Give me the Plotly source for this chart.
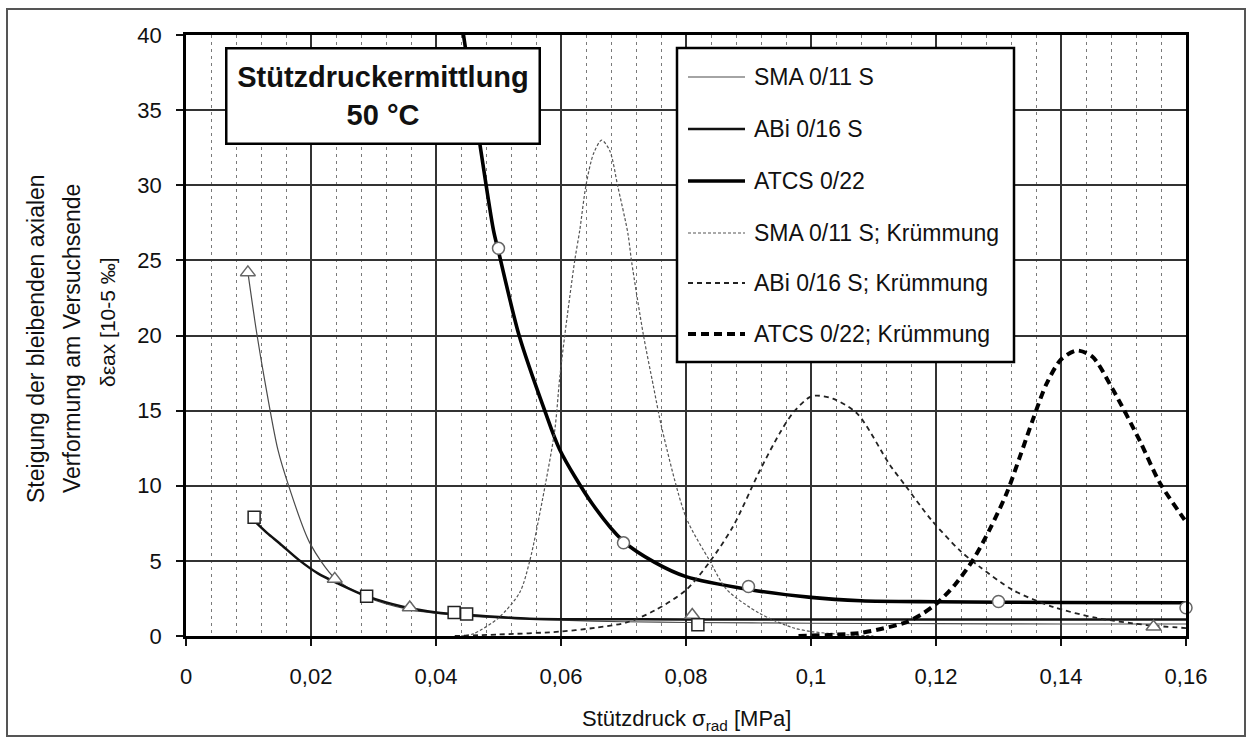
import plotly.graph_objects as go

# ---------------- data ----------------
# x: Stützdruck sigma_rad [MPa], y: Steigung der bleibenden axialen Verformung

sma_x = [0.0099, 0.0113, 0.0126, 0.0147, 0.0165, 0.0198, 0.0238, 0.0289, 0.0358,
         0.0428, 0.050, 0.060, 0.070, 0.080, 0.100, 0.120, 0.140, 0.160]
sma_y = [24.2, 20.2, 17.0, 12.4, 9.9, 6.2, 3.85, 2.6, 1.75,
         1.4, 1.2, 1.05, 0.95, 0.9, 0.85, 0.82, 0.8, 0.8]

abi_x = [0.0111, 0.0130, 0.0150, 0.0181, 0.0211, 0.0243, 0.0289, 0.0347, 0.0401,
         0.0454, 0.055, 0.065, 0.080, 0.100, 0.120, 0.140, 0.160]
abi_y = [7.6, 6.85, 6.16, 5.05, 4.17, 3.5, 2.65, 1.95, 1.57,
         1.4, 1.15, 1.12, 1.1, 1.1, 1.1, 1.1, 1.1]

atcs_x = [0.0435, 0.0444, 0.0470, 0.0492, 0.0500, 0.0533, 0.0574, 0.0598, 0.065,
          0.070, 0.075, 0.080, 0.090, 0.100, 0.108, 0.120, 0.140, 0.160]
atcs_y = [42.5, 40.0, 32.8, 27.0, 25.6, 20.0, 15.0, 12.4, 8.8,
          6.3, 4.9, 3.95, 3.1, 2.57, 2.35, 2.28, 2.23, 2.21]

sma_k_x = [0.044, 0.046, 0.050, 0.0534, 0.055, 0.057, 0.059, 0.0598, 0.0606, 0.0622,
           0.063, 0.064, 0.0652, 0.0665, 0.0678, 0.0691, 0.0707, 0.0713, 0.0732,
           0.0748, 0.0761, 0.080, 0.0838, 0.0865, 0.0918, 0.0971, 0.100, 0.105, 0.110]
sma_k_y = [0.0, 0.15, 1.2, 2.9, 5.0, 9.0, 13.7, 17.2, 20.0, 25.0,
           27.0, 30.0, 32.1, 33.0, 32.3, 29.9, 26.8, 24.9, 20.0,
           16.6, 13.9, 7.9, 5.0, 3.1, 1.5, 0.55, 0.3, 0.1, 0.0]

abi_k_x = [0.043, 0.050, 0.0598, 0.0655, 0.0705, 0.075, 0.080, 0.0838, 0.0875, 0.0918,
           0.095, 0.0972, 0.0998, 0.101, 0.1035, 0.1074, 0.1126, 0.1153, 0.1193, 0.1238,
           0.127, 0.1323, 0.1387, 0.1457, 0.1537, 0.160]
abi_k_y = [0.0, 0.1, 0.29, 0.55, 0.9, 1.7, 3.06, 4.94, 7.27, 11.0,
           13.5, 14.9, 15.9, 16.0, 15.8, 14.8, 11.4, 9.9, 7.7, 5.7,
           4.6, 3.06, 1.94, 1.2, 0.73, 0.53]

atcs_k_x = [0.098, 0.1035, 0.1078, 0.1115, 0.1153, 0.1179, 0.1202, 0.123, 0.1259, 0.1286,
            0.1313, 0.1334, 0.1355, 0.1377, 0.140, 0.1425, 0.145, 0.1483, 0.1526, 0.1558,
            0.1595, 0.160]
atcs_k_y = [0.0, 0.08, 0.2, 0.5, 0.93, 1.5, 2.2, 3.4, 5.05, 7.1,
            9.5, 11.9, 14.4, 16.8, 18.4, 19.0, 18.6, 16.4, 13.0, 10.2,
            7.9, 7.6]

# measured points
sma_pts_x = [0.0099, 0.0238, 0.0358, 0.081, 0.1548]
sma_pts_y = [24.2, 3.8, 1.9, 1.4, 0.62]
abi_pts_x = [0.0109, 0.0289, 0.0429, 0.0449, 0.0819]
abi_pts_y = [7.9, 2.65, 1.57, 1.46, 0.75]
atcs_pts_x = [0.050, 0.070, 0.090, 0.130, 0.160]
atcs_pts_y = [25.8, 6.2, 3.3, 2.3, 1.88]

x_ticks = [0, 0.02, 0.04, 0.06, 0.08, 0.10, 0.12, 0.14, 0.16]
x_tick_labels = ["0", "0,02", "0,04", "0,06", "0,08", "0,1", "0,12", "0,14", "0,16"]
y_ticks = [0, 5, 10, 15, 20, 25, 30, 35, 40]
y_tick_labels = ["0", "5", "10", "15", "20", "25", "30", "35", "40"]

series_names = ["SMA 0/11 S", "ABi 0/16 S", "ATCS 0/22",
                "SMA 0/11 S; Krümmung", "ABi 0/16 S; Krümmung", "ATCS 0/22; Krümmung"]

# ---------------- styling ----------------
FONT = "Liberation Sans, Arial, sans-serif"
W, H = 1252, 738
ML, MR, MT, MB = 186, 66, 35, 102
PW, PH = W - ML - MR, H - MT - MB


def px(xp):
    return (xp - ML) / PW


def py(yp):
    return (H - MB - yp) / PH


line_styles = [
    dict(color="#4a4a4a", width=1.2),
    dict(color="#111111", width=2.5),
    dict(color="#000000", width=3.6),
    dict(color="#555555", width=1.2, dash="3px,2px"),
    dict(color="#222222", width=1.8, dash="5px,4px"),
    dict(color="#000000", width=4.0, dash="8px,5px"),
]

curves = [(sma_x, sma_y), (abi_x, abi_y), (atcs_x, atcs_y),
          (sma_k_x, sma_k_y), (abi_k_x, abi_k_y), (atcs_k_x, atcs_k_y)]

fig = go.Figure()

for name, (cx, cy), st in zip(series_names, curves, line_styles):
    fig.add_trace(go.Scatter(x=cx, y=cy, mode="lines", name=name,
                             line=dict(shape="spline", smoothing=0.8, **st),
                             showlegend=False, hoverinfo="skip"))

marker_sets = [
    (sma_pts_x, sma_pts_y, "triangle-up", "#666666", 13),
    (abi_pts_x, abi_pts_y, "square", "#222222", 12),
    (atcs_pts_x, atcs_pts_y, "circle", "#666666", 12),
]
for mx, my, sym, col, size in marker_sets:
    fig.add_trace(go.Scatter(x=mx, y=my, mode="markers", showlegend=False,
                             cliponaxis=False,
                             marker=dict(symbol=sym, size=size, color="white",
                                         line=dict(color=col, width=1.5))))

fig.update_xaxes(range=[0, 0.16], tickvals=x_ticks, ticktext=x_tick_labels,
                 ticks="outside", ticklen=7, tickwidth=1.5, tickcolor="#111",
                 ticklabelstandoff=12,
                 showline=True, linecolor="#000", linewidth=2.5, mirror=True,
                 showgrid=True, gridcolor="#333", gridwidth=1.5, zeroline=False,
                 minor=dict(dtick=0.004, tick0=0, showgrid=True, gridcolor="#7a7a7a",
                            gridwidth=1, griddash="3px,4px", ticks=""),
                 tickfont=dict(family=FONT, size=22, color="#111"))
fig.update_yaxes(range=[0, 40], tickvals=y_ticks, ticktext=y_tick_labels,
                 ticks="outside", ticklen=7, tickwidth=1.5, tickcolor="#111",
                 ticklabelstandoff=10,
                 showline=True, linecolor="#000", linewidth=2.5, mirror=True,
                 showgrid=True, gridcolor="#333", gridwidth=1.5, zeroline=False,
                 tickfont=dict(family=FONT, size=22, color="#111"))

shapes = []
annotations = []

# outer frame
shapes.append(dict(type="rect", xref="paper", yref="paper",
                   x0=px(7), x1=px(1245), y0=py(736), y1=py(9),
                   line=dict(color="#555", width=2), fillcolor="rgba(0,0,0,0)",
                   layer="below"))

# legend box
shapes.append(dict(type="rect", xref="paper", yref="paper",
                   x0=px(677), x1=px(1014), y0=py(362), y1=py(48),
                   line=dict(color="#000", width=2.5), fillcolor="white",
                   layer="above"))
row_y = [77, 129, 181, 233, 283, 334]
for name, st, ry in zip(series_names, line_styles, row_y):
    shapes.append(dict(type="line", xref="paper", yref="paper",
                       x0=px(688), x1=px(745), y0=py(ry), y1=py(ry),
                       line=st, layer="above"))
    annotations.append(dict(text=name, xref="paper", yref="paper",
                            x=px(752), y=py(ry), xanchor="left", yanchor="middle",
                            showarrow=False,
                            font=dict(family=FONT, size=23, color="#111")))

# title box
annotations.append(dict(text="<b>Stützdruckermittlung</b><br><b>50 °C</b>",
                        xref="paper", yref="paper", x=px(382.5), y=py(95.5),
                        xanchor="center", yanchor="middle", showarrow=False,
                        width=311, height=93, align="center", valign="middle",
                        bgcolor="white", bordercolor="#000", borderwidth=2.5,
                        borderpad=0,
                        font=dict(family=FONT, size=29, color="#111")))

# axis titles
annotations.append(dict(text="Stützdruck σ<sub>rad</sub> [MPa]", xref="paper", yref="paper",
                        x=0.5, y=py(720), xanchor="center", yanchor="middle",
                        showarrow=False, font=dict(family=FONT, size=22, color="#111")))
for txt, xc, yc, fs in [("Steigung der bleibenden axialen", 36, 339, 23),
                        ("Verformung am Versuchsende", 72, 339, 23),
                        ("δεax [10-5 ‰]", 107, 322, 21)]:
    annotations.append(dict(text=txt, xref="paper", yref="paper",
                            x=px(xc), y=py(yc),
                            xanchor="center", yanchor="middle", textangle=-90,
                            showarrow=False, font=dict(family=FONT, size=fs, color="#111")))

fig.update_layout(width=W, height=H,
                  margin=dict(l=ML, r=MR, t=MT, b=MB, pad=0),
                  paper_bgcolor="white", plot_bgcolor="white",
                  showlegend=False, separators=",.",
                  font=dict(family=FONT),
                  shapes=shapes, annotations=annotations)

fig.write_html("out.html")
